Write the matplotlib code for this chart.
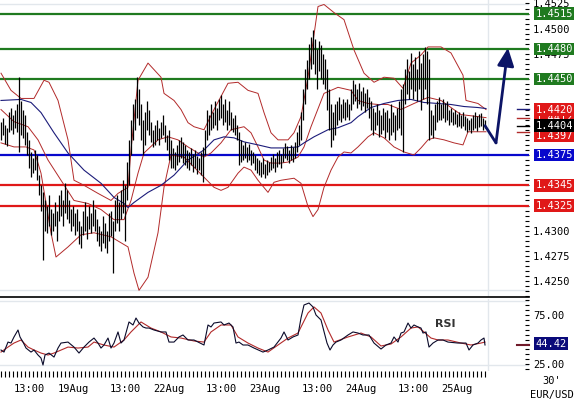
import numpy as np
import matplotlib
matplotlib.use('Agg')
import matplotlib.pyplot as plt
import matplotlib.transforms as mtransforms
from matplotlib.ticker import MultipleLocator, FixedLocator

# EUR/USD 30' bars (bar index 0 = 18Aug 06:00)
highs = [1.4408,1.4412,1.4405,1.4402,1.4418,1.4422,1.4415,1.4420,1.4425,1.4452,1.4428,1.4420,
         1.4415,1.4398,1.4390,1.4378,1.4372,1.4380,1.4375,1.4355,1.4345,1.4338,1.4330,1.4325,
         1.4335,1.4322,1.4318,1.4328,1.4320,1.4335,1.4340,1.4330,1.4347,1.4340,1.4330,1.4322,
         1.4325,1.4318,1.4322,1.4310,1.4305,1.4320,1.4328,1.4315,1.4325,1.4318,1.4330,1.4322,
         1.4312,1.4305,1.4300,1.4315,1.4308,1.4300,1.4318,1.4320,1.4310,1.4330,1.4335,1.4328,
         1.4340,1.4350,1.4345,1.4368,1.4390,1.4410,1.4425,1.4430,1.4452,1.4440,1.4425,1.4410,
         1.4418,1.4428,1.4420,1.4408,1.4400,1.4405,1.4410,1.4402,1.4408,1.4415,1.4405,1.4395,
         1.4400,1.4390,1.4382,1.4378,1.4385,1.4390,1.4393,1.4388,1.4385,1.4380,1.4378,1.4382,
         1.4376,1.4380,1.4374,1.4372,1.4378,1.4383,1.4400,1.4420,1.4415,1.4425,1.4418,1.4428,
         1.4422,1.4430,1.4434,1.4425,1.4430,1.4420,1.4428,1.4418,1.4412,1.4415,1.4405,1.4398,
         1.4390,1.4385,1.4388,1.4383,1.4386,1.4380,1.4378,1.4375,1.4372,1.4370,1.4368,1.4372,
         1.4366,1.4370,1.4368,1.4373,1.4376,1.4372,1.4378,1.4380,1.4376,1.4382,1.4387,1.4384,
         1.4380,1.4385,1.4383,1.4388,1.4398,1.4405,1.4418,1.4440,1.4460,1.4469,1.4485,1.4492,
         1.4499,1.4490,1.4480,1.4488,1.4484,1.4475,1.4470,1.4460,1.4440,1.4425,1.4418,1.4425,
         1.4428,1.4432,1.4425,1.4430,1.4427,1.4430,1.4425,1.4440,1.4449,1.4445,1.4440,1.4446,
         1.4438,1.4442,1.4436,1.4440,1.4432,1.4428,1.4422,1.4418,1.4425,1.4420,1.4415,1.4422,
         1.4418,1.4420,1.4412,1.4425,1.4418,1.4415,1.4422,1.4428,1.4440,1.4445,1.4460,1.4470,
         1.4458,1.4476,1.4465,1.4472,1.4460,1.4478,1.4466,1.4475,1.4482,1.4478,1.4470,1.4420,
         1.4415,1.4425,1.4428,1.4432,1.4425,1.4430,1.4426,1.4428,1.4420,1.4422,1.4418,1.4420,
         1.4416,1.4418,1.4415,1.4418,1.4414,1.4412,1.4410,1.4412,1.4415,1.4418,1.4414,1.4416,
         1.4417,1.4412,1.4410]
lows = [1.4390,1.4395,1.4386,1.4384,1.4398,1.4400,1.4396,1.4402,1.4398,1.4378,1.4395,1.4392,
        1.4385,1.4375,1.4362,1.4353,1.4357,1.4360,1.4350,1.4335,1.4320,1.4271,1.4300,1.4298,
        1.4305,1.4296,1.4300,1.4305,1.4290,1.4310,1.4315,1.4305,1.4318,1.4312,1.4308,1.4300,
        1.4305,1.4296,1.4300,1.4287,1.4283,1.4296,1.4300,1.4292,1.4302,1.4298,1.4305,1.4300,
        1.4290,1.4285,1.4280,1.4288,1.4283,1.4278,1.4290,1.4295,1.4258,1.4300,1.4308,1.4300,
        1.4312,1.4318,1.4290,1.4330,1.4345,1.4375,1.4390,1.4400,1.4412,1.4405,1.4390,1.4375,
        1.4385,1.4400,1.4395,1.4388,1.4383,1.4385,1.4390,1.4385,1.4392,1.4395,1.4388,1.4380,
        1.4370,1.4362,1.4362,1.4360,1.4365,1.4368,1.4372,1.4367,1.4365,1.4362,1.4360,1.4365,
        1.4358,1.4362,1.4356,1.4360,1.4355,1.4348,1.4375,1.4390,1.4395,1.4400,1.4402,1.4405,
        1.4400,1.4410,1.4412,1.4405,1.4408,1.4400,1.4405,1.4400,1.4398,1.4395,1.4390,1.4365,
        1.4368,1.4370,1.4372,1.4368,1.4370,1.4365,1.4367,1.4360,1.4357,1.4355,1.4353,1.4356,
        1.4352,1.4355,1.4358,1.4360,1.4362,1.4358,1.4363,1.4366,1.4362,1.4368,1.4372,1.4370,
        1.4367,1.4370,1.4368,1.4372,1.4378,1.4385,1.4390,1.4410,1.4425,1.4440,1.4450,1.4460,
        1.4465,1.4455,1.4440,1.4458,1.4450,1.4445,1.4440,1.4420,1.4400,1.4383,1.4390,1.4395,
        1.4405,1.4410,1.4408,1.4412,1.4410,1.4413,1.4410,1.4420,1.4425,1.4428,1.4422,1.4425,
        1.4420,1.4424,1.4418,1.4422,1.4412,1.4400,1.4395,1.4400,1.4405,1.4393,1.4396,1.4400,
        1.4392,1.4398,1.4390,1.4395,1.4398,1.4390,1.4400,1.4402,1.4395,1.4378,1.4425,1.4435,
        1.4430,1.4440,1.4430,1.4438,1.4428,1.4440,1.4420,1.4430,1.4440,1.4425,1.4390,1.4395,
        1.4392,1.4400,1.4408,1.4410,1.4410,1.4412,1.4408,1.4410,1.4405,1.4408,1.4405,1.4406,
        1.4403,1.4404,1.4402,1.4404,1.4400,1.4398,1.4400,1.4397,1.4400,1.4402,1.4399,1.4403,
        1.4404,1.4400,1.4402]

# Bollinger bands (bar index, price)
bb_up_x = [0,5,10,16.5,21.5,24,28.5,33.5,36.5,41.5,48.5,55,58.5,63.5,65,68.5,73.5,80,81.5,86.5,
           90,93.5,96.5,101.5,106.5,113.5,118.5,123.5,128.5,131.5,135,138.5,143.5,146.5,150,153.5,
           158.5,161.5,166.5,171.5,176.5,181.5,186.5,191.5,196.5,201,205,210,213.5,220,225,231,
           232.5,238.5,242.5]
bb_up = [1.4456,1.4439,1.4431,1.4431,1.4449,1.4447,1.4429,1.4390,1.4350,1.4345,1.4337,1.4330,
         1.4337,1.4343,1.4380,1.4449,1.4466,1.4452,1.4436,1.4429,1.4420,1.4407,1.4403,1.4400,
         1.4420,1.4446,1.4447,1.4439,1.4436,1.4417,1.4397,1.4390,1.4390,1.4397,1.4413,1.4452,
         1.4522,1.4524,1.4516,1.4509,1.4479,1.4456,1.4447,1.4452,1.4451,1.4441,1.4466,1.4474,
         1.4482,1.4482,1.4476,1.4454,1.4429,1.4426,1.4420]
bb_mid_x = [0,6.5,13.5,18.5,23.5,30,36.5,43.5,50,56.5,61.5,65,68.5,71.5,78.5,83.5,88.5,93.5,98.5,
            101.5,105,110,115,121.5,125,128.5,131.5,135,140,143.5,148.5,151.5,155,161.5,168.5,175,
            178.5,183.5,188.5,193.5,200,206.5,213.5,220,225,230,238.5,242.5]
bb_mid = [1.4420,1.4408,1.4403,1.4390,1.4370,1.4350,1.4330,1.4327,1.4321,1.4311,1.4311,1.4330,
          1.4357,1.4377,1.4390,1.4393,1.4390,1.4383,1.4377,1.4373,1.4377,1.4387,1.4400,1.4403,
          1.4397,1.4383,1.4370,1.4367,1.4367,1.4368,1.4373,1.4383,1.4403,1.4436,1.4442,1.4439,
          1.4429,1.4426,1.4425,1.4425,1.4420,1.4426,1.4432,1.4429,1.4422,1.4415,1.4413,1.4412]
bb_lo_x = [0,6.5,12.5,16.5,20,25,27.5,33.5,40,46.5,55,63.5,66.5,69,73.5,78.5,81.5,85,91.5,101.5,
           106.5,110,113.5,118.5,121.5,125,128.5,133.5,136.5,140,146.5,150,153.5,156,158.5,161.5,
           165,168.5,171.5,175,178.5,183.5,186.5,191.5,196.5,201.5,206.5,210,213.5,216.5,221.5,
           226.5,231,233.5,238.5,242.5]
bb_lo = [1.4387,1.4383,1.4383,1.4380,1.4357,1.4298,1.4274,1.4284,1.4296,1.4298,1.4294,1.4284,
         1.4258,1.4241,1.4254,1.4298,1.4343,1.4375,1.4373,1.4353,1.4343,1.4340,1.4343,1.4357,
         1.4363,1.4360,1.4350,1.4338,1.4348,1.4350,1.4352,1.4347,1.4324,1.4314,1.4321,1.4343,
         1.4360,1.4373,1.4378,1.4377,1.4383,1.4393,1.4397,1.4392,1.4383,1.4378,1.4375,1.4382,
         1.4390,1.4392,1.4390,1.4387,1.4385,1.4398,1.4398,1.4398]

# long moving average (blue)
ma_x = [0,10,15,20,26.5,33.5,41.5,50,56.5,61.5,63.5,66.5,73.5,80,86.5,93.5,101.5,106.5,111.5,116.5,
        121.5,128.5,135,141.5,148.5,151.5,156.5,163.5,168.5,175,178.5,185,191.5,198.5,205,211.5,
        218.5,225,231.5,238.5,242.5]
ma = [1.4429,1.4430,1.4427,1.4417,1.4397,1.4377,1.4360,1.4347,1.4333,1.4327,1.4323,1.4328,1.4338,
      1.4345,1.4355,1.4370,1.4380,1.4390,1.4393,1.4392,1.4388,1.4385,1.4382,1.4382,1.4383,1.4387,
      1.4393,1.4400,1.4402,1.4407,1.4413,1.4422,1.4426,1.4429,1.4430,1.4427,1.4426,1.4425,1.4423,
      1.4422,1.4421]

# RSI and its signal line
rsi_x = [0,1.5,3.5,5,6.5,8.5,9.5,11,12.5,15,16.5,18.5,20,21,22,24,26.5,28.5,30,33.5,36.5,39,41.5,
         44,46.5,48.5,50,51.5,53.5,55,56.5,58.5,60,61.5,64,66,67.5,69,71,72.5,74,76.5,80,82.5,84,
         86.5,89,91,93.5,96.5,101.5,103.5,105,106.5,110,111.5,114,116,117.5,119,121,123.5,126.5,
         131,133.5,136.5,140,141.5,143.5,146,148.5,150,151.5,154,156,157.5,160,163,164.5,166,
         167.5,170,173.5,176,178.5,181,184,186.5,190,192.5,195,196.5,198.5,200,201.5,203.5,205,
         206.5,208.5,210,211,212.5,214,216,218.5,221,223.5,228.5,232.5,234,236,238.5,240,241.5,242]
rsi = [39.3,37.2,47.4,46.4,52.6,59.7,52.6,47.4,41.3,37.2,39.3,34.2,31.1,24.0,34.2,36.2,32.1,41.3,
       46.4,47.4,42.3,36.2,42.3,47.4,51.5,46.4,41.3,44.4,51.5,41.3,46.4,57.7,46.4,49.5,67.9,64.8,
       71.9,66.8,62.8,61.7,61.7,59.7,57.7,57.7,47.4,47.4,52.6,54.6,49.5,49.5,44.4,64.8,62.8,66.8,
       67.9,64.8,66.8,62.8,46.4,47.4,44.4,44.4,41.3,37.2,39.3,42.3,51.5,57.7,49.5,52.6,54.6,71.9,
       85.2,87.2,83.2,75.0,69.9,46.4,39.3,44.4,47.4,49.5,54.6,57.7,56.6,54.6,54.6,46.4,40.3,44.4,
       46.4,52.6,47.4,56.6,57.7,66.8,61.7,64.8,62.8,61.7,56.6,57.7,42.3,46.4,49.5,49.5,47.4,46.4,
       46.4,39.3,44.4,46.4,49.5,51.5,44.42]
sig_x = [0,3.5,6.5,10,13.5,16.5,20,23.5,26.5,33.5,38.5,43.5,46.5,51.5,56.5,61.5,65,70,75,80,85,90,
         96.5,101.5,105,110,115,118.5,123.5,128.5,133.5,138.5,143.5,148.5,153.5,156.5,160,163.5,
         166.5,173.5,180,185,190,195,200,205,208.5,211.5,215,218.5,223.5,230,235,240,242]
sig = [37.2,42.3,46.4,49.5,42.3,39.3,36.2,34.2,36.2,42.3,41.3,42.3,47.4,44.4,42.3,49.5,57.7,67.9,
       61.7,57.7,52.6,51.5,48.5,47.4,57.7,64.8,64.8,52.6,46.4,41.3,37.2,44.4,51.5,56.6,77.0,83.2,
       77.0,59.7,47.4,52.6,56.6,52.6,43.4,45.4,52.6,61.7,62.8,57.7,51.5,49.5,49.5,46.4,44.4,46.4,
       47.4]

# support / resistance levels
res_levels = [1.4515, 1.4480, 1.4450]
piv_level = 1.4375
sup_levels = [1.4345, 1.4325]

# forecast path: last close -> dip -> target
fc_x = [242, 247.5, 253.5]
fc_y = [1.4404, 1.4387, 1.4481]

# price labels not hidden behind the level boxes
price_ticks = [1.4250, 1.4275, 1.4300, 1.4475, 1.4500, 1.4525]
rsi_ticks = [25, 75]

tick_pos = [14, 36, 62, 84, 110, 132, 158, 180, 206, 228]
tick_lab = ['13:00', '19Aug', '13:00', '22Aug', '13:00', '23Aug', '13:00', '24Aug', '13:00', '25Aug']

GREEN = '#1f7a1f'
RED = '#e01818'
BLUE = '#0808cc'
BAND = '#b22a2a'
NAVY = '#1c1c7a'
GRID = '#e2e7ec'
MONO = 'DejaVu Sans Mono'
FS = 7.5

W, H = 575, 407
fig = plt.figure(figsize=(W / 100, H / 100), dpi=100)
ax = fig.add_axes([0, 1 - 297 / H, 529 / W, 297 / H])
rax = fig.add_axes([0, 1 - 371 / H, 529 / W, 72 / H])

for a in (ax, rax):
    a.set_xlim(-0.5, 264)
    for s in a.spines.values():
        s.set_visible(False)
    a.axvline(243.5, color=GRID, lw=1, zorder=0)
ax.spines['bottom'].set_visible(True)
ax.spines['bottom'].set_color('black')
ax.spines['bottom'].set_linewidth(1.2)

ax.set_ylim(1.423442, 1.452845)
rax.set_ylim(17.9, 91.3)

# faint frame lines
ax.axhline(1.4524, color=GRID, lw=1, zorder=0)
ax.axhline(1.4241, color=GRID, lw=1, zorder=0)
rax.axhline(89.3, color=GRID, lw=1, zorder=0)
rax.axhline(24.0, color=GRID, lw=1, zorder=0)

# levels
for lv in res_levels:
    ax.axhline(lv, color=GREEN, lw=1.6, zorder=2)
ax.axhline(piv_level, color=BLUE, lw=1.6, zorder=2)
for lv in sup_levels:
    ax.axhline(lv, color=RED, lw=1.6, zorder=2)

# indicators and bars
ax.plot(bb_up_x, bb_up, color=BAND, lw=0.7, zorder=3)
ax.plot(bb_mid_x, bb_mid, color=BAND, lw=0.7, zorder=3)
ax.plot(bb_lo_x, bb_lo, color=BAND, lw=0.7, zorder=3)
ax.plot(ma_x, ma, color=NAVY, lw=0.8, zorder=3)
idx = np.arange(len(highs))
ax.vlines(idx, lows, highs, color='black', lw=0.9, zorder=4)

# forecast arrow
ax.plot(fc_x[:2], fc_y[:2], color='#0c1466', lw=2, zorder=5, solid_capstyle='round')
ax.annotate('', xy=(fc_x[2], fc_y[2]), xytext=(fc_x[1], fc_y[1]),
            arrowprops=dict(arrowstyle='-|>,head_length=0.6,head_width=0.28', color='#0c1466',
                            lw=2, mutation_scale=18, shrinkA=0, shrinkB=0), zorder=5)

# y axis on the right
ax.yaxis.tick_right()
ax.yaxis.set_major_locator(FixedLocator(price_ticks))
ax.yaxis.set_minor_locator(MultipleLocator(0.0005))
ax.yaxis.set_major_formatter(matplotlib.ticker.FormatStrFormatter('%.4f'))
ax.tick_params(axis='y', which='both', direction='in', length=3, width=0.8, pad=3,
               labelsize=FS, right=True, left=False)
ax.tick_params(axis='x', bottom=False, labelbottom=False)
for t in ax.get_yticklabels():
    t.set_family(MONO)

rax.yaxis.tick_right()
rax.yaxis.set_major_locator(FixedLocator(rsi_ticks))
rax.yaxis.set_minor_locator(MultipleLocator(5))
rax.yaxis.set_major_formatter(matplotlib.ticker.FormatStrFormatter('%.2f'))
rax.tick_params(axis='y', which='both', direction='in', length=3, width=0.8, pad=3,
                labelsize=FS, right=True, left=False)
rax.set_xticks(tick_pos)
rax.set_xticklabels(tick_lab)
rax.set_xticks(np.arange(0, 243, 2), minor=True)
rax.tick_params(axis='x', which='both', direction='out', length=4, width=0.8, pad=5, labelsize=FS)
for t in rax.get_xticklabels() + rax.get_yticklabels():
    t.set_family(MONO)

# RSI lines
rax.plot(sig_x, sig, color=BAND, lw=0.8, zorder=3)
rax.plot(rsi_x, rsi, color='#0a0a2a', lw=0.8, zorder=4)
rax.text(222, 66, 'RSI', fontsize=8, fontweight='bold', color='#333333', ha='center', va='center')

# right-hand value boxes
tr = mtransforms.blended_transform_factory(ax.transAxes, ax.transData)
rtr = mtransforms.blended_transform_factory(rax.transAxes, rax.transData)


def box(a, trans, y, txt, fc, dy=0):
    a.annotate(txt, xy=(1.004, y), xycoords=trans, xytext=(3, dy), textcoords='offset points',
               ha='left', va='center', color='white', fontsize=FS, family=MONO,
               bbox=dict(boxstyle='square,pad=0.12', fc=fc, ec='none'),
               annotation_clip=False, zorder=6)


for lv in res_levels:
    box(ax, tr, lv, '%.4f' % lv, GREEN)
box(ax, tr, piv_level, '%.4f' % piv_level, BLUE)
for lv in sup_levels:
    box(ax, tr, lv, '%.4f' % lv, RED)

# last-value stubs
last_vals = [(ma[-1], NAVY), (bb_mid[-1], BAND), (lows[-1] + 0.0002, 'black'), (bb_lo[-1], BAND)]
for v, c in last_vals:
    ax.plot([0.977, 1.0], [v, v], color=c, lw=1, transform=tr, clip_on=False, zorder=5)
box(ax, tr, bb_lo[-1] - 0.0001, '1.4397', RED, dy=-2)
box(ax, tr, bb_mid[-1], '%.4f' % bb_mid[-1], RED)
box(ax, tr, bb_up[-1], '%.4f' % bb_up[-1], RED)
box(ax, tr, 1.4404, '1.4404', 'black')

rax.plot([0.977, 1.0], [sig[-1] - 3, sig[-1] - 3], color='#701a2a', lw=1.5, transform=rtr,
         clip_on=False, zorder=5)
rax.annotate('%.2f' % rsi[-1], xy=(1.004, rsi[-1] + 1.5), xycoords=rtr, xytext=(3, 0),
             textcoords='offset points', ha='left', va='center', color='white', fontsize=FS,
             family=MONO, bbox=dict(boxstyle='square,pad=0.12', fc='#0a0a7a', ec='none'),
             annotation_clip=False, zorder=6)

fig.text(552 / W, 1 - 381 / H, "30'", ha='center', va='center', fontsize=FS, family=MONO)
fig.text(552 / W, 1 - 395 / H, 'EUR/USD', ha='center', va='center', fontsize=FS, family=MONO)

fig.savefig('out.png', dpi=100, facecolor='white')
